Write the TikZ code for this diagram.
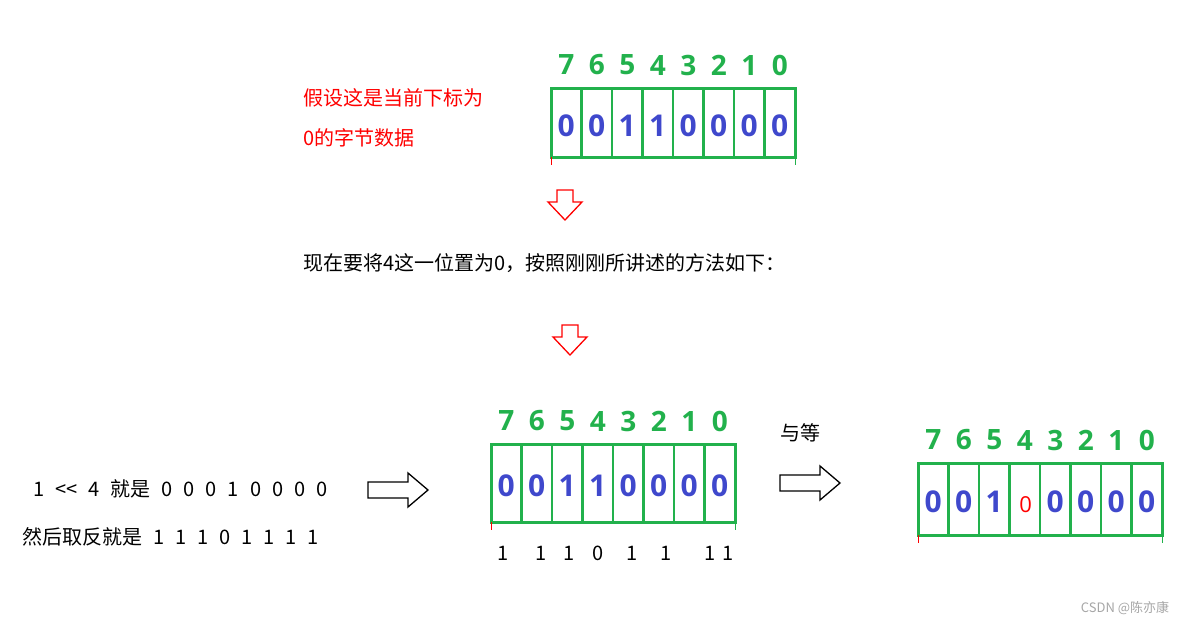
\documentclass[tikz,border=0pt]{standalone}
\usepackage{fontspec}
\setmainfont{Noto Sans CJK SC}
\newfontfamily\digf{Open Sans}
\definecolor{gr}{HTML}{22B14C}
\definecolor{bl}{HTML}{3F48CC}
\begin{document}
\begin{tikzpicture}[x=1pt,y=-1pt,
  lbl/.style={font=\fontsize{28}{28}\selectfont\digf\bfseries,text=gr,inner sep=0},
  bit/.style={font=\fontsize{30}{30}\selectfont\digf\bfseries,text=bl,inner sep=0},
  txt/.style={font=\fontsize{20}{20}\selectfont,anchor=west,inner sep=0},
  reg/.style={draw=gr,line width=3pt}]
\useasboundingbox (0,0) rectangle (1186,625);
\foreach \rx/\ry/\rh/\ly/\nm in {551/88/69/65/a,491/444/78/423/b,918/463/72/440/c}{
  \draw[reg] (\rx,\ry) rectangle ++(244,\rh);
  \foreach \i in {1,...,7} \draw[gr,line width=2.5pt] (\rx+\i*30.5,\ry) -- ++(0,\rh);
  \draw[red,line width=1pt] (\rx,\ry+\rh) -- ++(0,8);
  \draw[gr,line width=1pt] (\rx+244,\ry+\rh) -- ++(0,8);
  \foreach \d [count=\k from 0] in {7,6,5,4,3,2,1,0}
    \node[lbl] (\nm l\k) at (\rx+15.25+\k*30.5,\ry-23) {\d};
}
\foreach \d [count=\k from 0] in {0,0,1,1,0,0,0,0} \node[bit] (ab\k) at (551+15.25+\k*30.5,126) {\d};
\foreach \d [count=\k from 0] in {0,0,1,1,0,0,0,0} \node[bit] (bb\k) at (491+15.25+\k*30.5,486) {\d};
\foreach \d/\k in {0/0,0/1,1/2,0/4,0/5,0/6,0/7} \node[bit] (cb\k) at (918+15.25+\k*30.5,502) {\d};
\node[font=\fontsize{22}{22}\selectfont\digf,text=red,inner sep=0] (c4) at (1025.75,505) {0};
\node[txt,text=red] (t1) at (303,98) {假设这是当前下标为};
\node[txt,text=red] (t2) at (303,138) {0的字节数据};
\node[txt] (t3) at (303,263) {现在要将4这一位置为0，按照刚刚所讲述的方法如下：};
\node[txt] (t4) at (33,489) {\spaceskip=11pt 1 {<}{<} 4 就是 0 0 0 1 0 0 0 0};
\node[txt] (t5) at (22,537) {\spaceskip=11pt 然后取反就是 1 1 1 0 1 1 1 1};
\node[txt] (t6) at (780,433) {与等};
\foreach \x/\d [count=\k] in {503/1,541/1,569/1,598/0,632/1,666/1,710/1,728/1}
  \node[font=\fontsize{20}{20}\selectfont,inner sep=0] (u\k) at (\x,553) {\d};
\node[font=\fontsize{13}{13}\selectfont,text=gray!70,inner sep=0] (cs) at (1125,608) {CSDN @陈亦康};
\foreach \cx/\cy in {565/190,570/325}
  \draw[red,line width=1.3pt] (\cx-8,\cy) -- (\cx+8,\cy) -- (\cx+8,\cy+12) -- (\cx+17,\cy+12) -- (\cx,\cy+30) -- (\cx-17,\cy+12) -- (\cx-8,\cy+12) -- cycle;
\foreach \cx/\cy in {368/490,780/483}
  \draw[black,line width=1.3pt] (\cx,\cy-8) -- (\cx+40,\cy-8) -- (\cx+40,\cy-17) -- (\cx+60,\cy) -- (\cx+40,\cy+17) -- (\cx+40,\cy+8) -- (\cx,\cy+8) -- cycle;
\end{tikzpicture}
\end{document}
